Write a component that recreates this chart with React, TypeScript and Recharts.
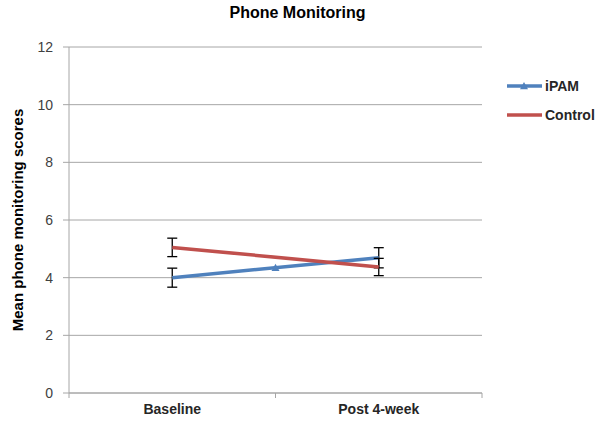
import { LineChart, Line, XAxis, YAxis, CartesianGrid, ErrorBar, ReferenceDot } from 'recharts'

const categories = ['Baseline', 'Post 4-week']
const ipamMeans = [4.0, 4.69]
const ipamErrors = [0.33, 0.35]
const controlMeans = [5.05, 4.37]
const controlErrors = [0.32, 0.3]
const yTicks = [0, 2, 4, 6, 8, 10, 12]

const BLUE = '#4F81BD'
const RED = '#C0504D'
const GRID = '#A6A6A6'
const FONT = '"Liberation Sans", Arial, sans-serif'

// x positions sit in the middle of each category band, band edges get the tick marks
const data = categories.map((cat, i) => ({
  x: i + 0.5,
  cat,
  ipam: ipamMeans[i],
  ipamErr: ipamErrors[i],
  control: controlMeans[i],
  controlErr: controlErrors[i],
}))

const xTicks = [0, 0.5, 1, 1.5, 2]

function XTick(props: any) {
  const { x, y, payload } = props
  const v = payload.value as number
  if (Number.isInteger(v)) {
    return <line x1={x} y1={y} x2={x} y2={y + 5} stroke={GRID} strokeWidth={1} />
  }
  const label = categories[Math.floor(v)]
  return (
    <text x={x} y={y + 21} textAnchor="middle" fontFamily={FONT} fontSize={14} fontWeight="bold" fill="#262626">
      {label}
    </text>
  )
}

function Triangle({ cx, cy, color, size = 5 }: { cx: number; cy: number; color: string; size?: number }) {
  return (
    <polygon
      points={`${cx},${cy - size} ${cx - size},${cy + size * 0.8} ${cx + size},${cy + size * 0.8}`}
      fill={color}
    />
  )
}

function LegendBox() {
  const rows = [
    { name: 'iPAM', color: BLUE, marker: true },
    { name: 'Control', color: RED, marker: false },
  ]
  return (
    <div
      style={{
        position: 'absolute', left: 505, top: 71, width: 106,
        fontFamily: FONT, fontSize: 14, fontWeight: 'bold', color: '#262626',
      }}
    >
      {rows.map(r => (
        <div key={r.name} style={{ display: 'flex', alignItems: 'center', height: 29 }}>
          <svg width={38} height={12}>
            <line x1={2} y1={6} x2={37} y2={6} stroke={r.color} strokeWidth={3.5} />
            {r.marker && <Triangle cx={19} cy={6} color={r.color} size={4} />}
          </svg>
          <span style={{ marginLeft: 2 }}>{r.name}</span>
        </div>
      ))}
    </div>
  )
}

export default function App() {
  const midValue = (ipamMeans[0] + ipamMeans[1]) / 2
  return (
    <div style={{ position: 'absolute', left: 0, top: 0, width: 611, height: 430, background: '#fff' }}>
      <div
        style={{
          position: 'absolute', top: 4, left: 0, width: 595, textAlign: 'center',
          fontFamily: FONT, fontSize: 16, fontWeight: 'bold', color: '#000',
        }}
      >
        Phone Monitoring
      </div>
      <LineChart width={611} height={430} data={data} margin={{ top: 47, right: 129, bottom: 0, left: 0 }}>
        <CartesianGrid vertical={false} stroke={GRID} />
        <XAxis
          dataKey="x"
          type="number"
          domain={[0, 2]}
          ticks={xTicks}
          height={37}
          axisLine={{ stroke: GRID }}
          tickLine={false}
          tickSize={0}
          tickMargin={0}
          tick={<XTick />}
          interval={0}
        />
        <YAxis
          domain={[0, 12]}
          ticks={yTicks}
          width={69}
          tickSize={6}
          tickMargin={10}
          axisLine={{ stroke: GRID }}
          tickLine={{ stroke: GRID }}
          tick={{ fontFamily: FONT, fontSize: 14, fill: '#404040' }}
          label={{
            content: (p: any) => {
              const vb = p.viewBox
              const cy = vb.y + vb.height / 2
              return (
                <text
                  x={17} y={cy} transform={`rotate(-90, 17, ${cy})`}
                  textAnchor="middle" dominantBaseline="central"
                  fontFamily={FONT} fontSize={15} fontWeight="bold" fill="#000"
                >
                  Mean phone monitoring scores
                </text>
              )
            },
          }}
        />
        <Line dataKey="ipam" name="iPAM" stroke={BLUE} strokeWidth={3.5} dot={false} isAnimationActive={false}>
          <ErrorBar dataKey="ipamErr" width={5} stroke="#000" strokeWidth={1.3} />
        </Line>
        <Line dataKey="control" name="Control" stroke={RED} strokeWidth={3.5} dot={false} isAnimationActive={false}>
          <ErrorBar dataKey="controlErr" width={5} stroke="#000" strokeWidth={1.3} />
        </Line>
        <ReferenceDot
          x={1}
          y={midValue}
          r={5}
          shape={(p: any) => <Triangle cx={p.cx} cy={p.cy} color={BLUE} size={4} />}
        />
      </LineChart>
      <LegendBox />
    </div>
  )
}
